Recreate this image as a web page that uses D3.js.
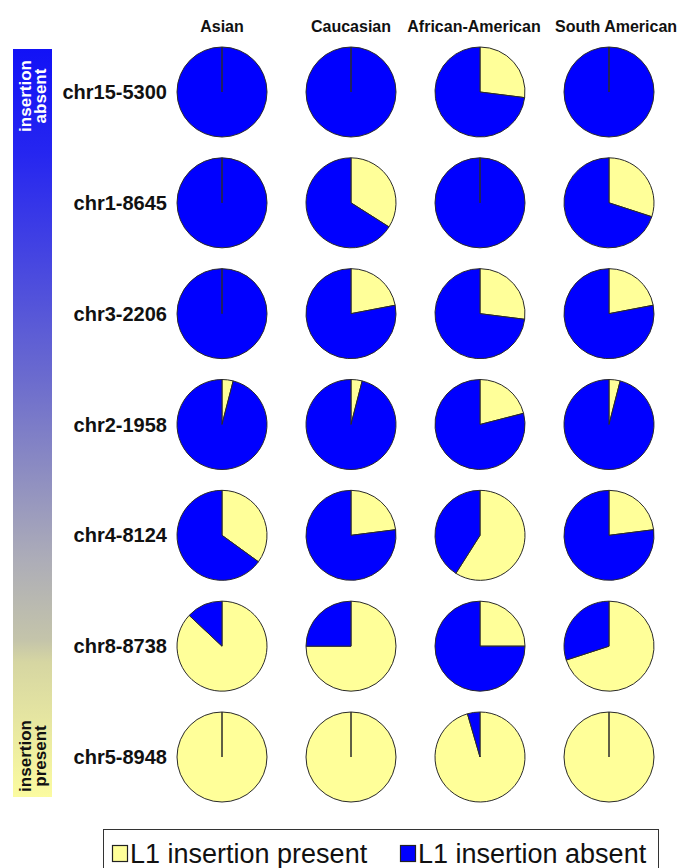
<!DOCTYPE html>
<html>
<head>
<meta charset="utf-8">
<script src="https://cdn.jsdelivr.net/npm/d3@7"></script>
<style>
  html, body { margin: 0; padding: 0; background: #fff; }
  svg { display: block; font-family: "Liberation Sans", Arial, Helvetica, sans-serif; }
</style>
</head>
<body>
<svg id="chart" width="681" height="868"></svg>
<script>
// ---- data ----
const groups = ["Asian", "Caucasian", "African-American", "South American"];
const loci = ["chr15-5300", "chr1-8645", "chr3-2206", "chr2-1958", "chr4-8124", "chr8-8738", "chr5-8948"];
// fraction of individuals with the L1 insertion present, per locus (same order as loci)
const presentAsian           = [0.00, 0.00, 0.00, 0.04, 0.35, 0.87, 1.00];
const presentCaucasian       = [0.00, 0.34, 0.22, 0.04, 0.23, 0.75, 1.00];
const presentAfricanAmerican = [0.27, 0.00, 0.27, 0.21, 0.59, 0.25, 0.955];
const presentSouthAmerican   = [0.00, 0.30, 0.22, 0.04, 0.23, 0.70, 1.00];
const legendLabels = ["L1 insertion present", "L1 insertion absent"];
const scaleLabels = [["insertion", "absent"], ["insertion", "present"]];

const presentByGroup = {
  "Asian": presentAsian,
  "Caucasian": presentCaucasian,
  "African-American": presentAfricanAmerican,
  "South American": presentSouthAmerican
};

// ---- layout ----
const svg = d3.select("#chart");
const colorPresent = "#ffff99";
const colorAbsent = "#0000ff";
const R = 45;

const x = d3.scalePoint().domain(groups).range([222, 609]);
const y = d3.scalePoint().domain(loci).range([92, 757]);

// gradient bar
const defs = svg.append("defs");
const grad = defs.append("linearGradient").attr("id", "bar").attr("x1", 0).attr("y1", 0).attr("x2", 0).attr("y2", 1);
[
  [0.00, "#1212f6"], [0.14, "#2626f0"], [0.27, "#4343e2"], [0.44, "#6b6bce"],
  [0.56, "#8b8bc2"], [0.68, "#acacb8"], [0.79, "#c4c4aa"], [0.82, "#d6d6a2"],
  [1.00, "#fbfba0"]
].forEach(([o, c]) => grad.append("stop").attr("offset", o).attr("stop-color", c));

const barTop = 49, barBottom = 797;
svg.append("rect").attr("x", 13).attr("y", barTop).attr("width", 39).attr("height", barBottom - barTop)
  .attr("fill", "url(#bar)");

function vertLabel(lines, cy, color) {
  const g = svg.append("g").attr("transform", `translate(0,${cy}) rotate(-90)`);
  lines.forEach((t, i) => {
    g.append("text").attr("x", 0).attr("y", 31 + i * 15)
      .attr("text-anchor", "middle").attr("fill", color)
      .attr("font-size", 17).attr("font-weight", "bold").text(t);
  });
}
vertLabel(scaleLabels[0], 96, "#ffffff");
vertLabel(scaleLabels[1], 756, "#111111");

// column headers
svg.selectAll("text.header").data(groups).join("text")
  .attr("class", "header")
  .attr("x", d => x(d) + (d === "South American" ? 7 : (d === "African-American" ? -6 : 0)))
  .attr("y", 32)
  .attr("text-anchor", "middle")
  .attr("font-size", 16).attr("font-weight", "bold").attr("fill", "#111")
  .text(d => d);

// row labels
svg.selectAll("text.rowlab").data(loci).join("text")
  .attr("class", "rowlab")
  .attr("x", 167)
  .attr("y", d => y(d) + 7)
  .attr("text-anchor", "end")
  .attr("font-size", 20).attr("font-weight", "bold").attr("fill", "#111")
  .text(d => d);

// pies
const pie = d3.pie().sort(null).value(d => d.v);
const arc = d3.arc().innerRadius(0).outerRadius(R);

const cells = [];
loci.forEach((l, i) => groups.forEach(g => cells.push({ locus: l, group: g, p: presentByGroup[g][i] })));

const pg = svg.selectAll("g.pie").data(cells).join("g")
  .attr("class", "pie")
  .attr("transform", d => `translate(${x(d.group)},${y(d.locus)})`);

pg.each(function(d) {
  const slices = pie([{ k: "present", v: d.p }, { k: "absent", v: 1 - d.p }]);
  const paths = d3.select(this).selectAll("path").data(slices).join("path")
    .attr("d", arc)
    .attr("fill", s => s.data.k === "present" ? colorPresent : colorAbsent)
    .attr("stroke", "#2a2a2a")
    .attr("stroke-width", 1)
    .attr("stroke-linejoin", "round");
  paths.filter(s => s.endAngle - s.startAngle < 1e-9).raise();
});

// legend
const lg = svg.append("g");
lg.append("rect").attr("x", 103.5).attr("y", 829.5).attr("width", 555).attr("height", 60)
  .attr("fill", "#fff").attr("stroke", "#333").attr("stroke-width", 1);
const legendX = [112, 400];
legendLabels.forEach((t, i) => {
  lg.append("rect").attr("x", legendX[i] + 0.5).attr("y", 845.5).attr("width", 15).attr("height", 16)
    .attr("fill", i === 0 ? colorPresent : colorAbsent).attr("stroke", "#222").attr("stroke-width", 1.2);
  lg.append("text").attr("x", legendX[i] + 18).attr("y", 863)
    .attr("font-size", 27).attr("fill", "#111").text(t);
});
</script>
</body>
</html>
